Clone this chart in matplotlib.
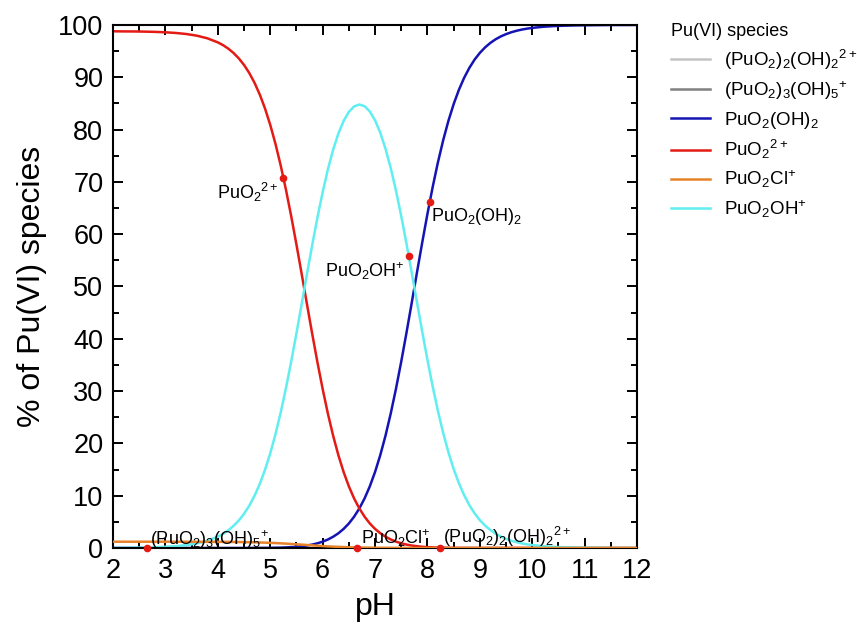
import numpy as np
import matplotlib
matplotlib.use("Agg")
import matplotlib.pyplot as plt
from matplotlib.ticker import MultipleLocator

plt.rcParams['font.family'] = ['Liberation Sans', 'DejaVu Sans']
plt.rcParams['mathtext.fontset'] = 'custom'
plt.rcParams['mathtext.rm'] = 'Liberation Sans'
plt.rcParams['mathtext.it'] = 'Liberation Sans:italic'
plt.rcParams['mathtext.bf'] = 'Liberation Sans:bold'

# pH grid (finer where the curves bend)
ph = [2.0, 2.2, 2.4, 2.6, 2.8, 3.0, 3.2, 3.4, 3.6, 3.8, 4.0,
      4.1, 4.2, 4.3, 4.4, 4.5, 4.6, 4.7, 4.8, 4.9,
      5.0, 5.1, 5.2, 5.3, 5.4, 5.5, 5.6, 5.7, 5.8, 5.9,
      6.0, 6.1, 6.2, 6.3, 6.4, 6.5, 6.6, 6.7, 6.8, 6.9,
      7.0, 7.1, 7.2, 7.3, 7.4, 7.5, 7.6, 7.7, 7.8, 7.9,
      8.0, 8.1, 8.2, 8.3, 8.4, 8.5, 8.6, 8.7, 8.8, 8.9,
      9.0, 9.1, 9.2, 9.3, 9.4, 9.5, 9.6, 9.7, 9.8, 9.9,
      10.0, 10.2, 10.4, 10.6, 10.8, 11.0, 11.2, 11.4, 11.6, 11.8, 12.0]

# % of Pu(VI) species
puo2 = [98.79, 98.77, 98.76, 98.73, 98.68, 98.60, 98.47, 98.27, 97.95, 97.45, 96.67,
        96.14, 95.47, 94.64, 93.61, 92.35, 90.81, 88.94, 86.70, 84.03,
        80.89, 77.25, 73.11, 68.48, 63.42, 58.01, 52.37, 46.64, 40.98, 35.52,
        30.39, 25.68, 21.46, 17.74, 14.52, 11.78, 9.47, 7.56, 5.98, 4.69,
        3.65, 2.82, 2.15, 1.63, 1.21, 0.90, 0.65, 0.47, 0.34, 0.23,
        0.16, 0.11, 0.07, 0.05, 0.03, 0.02, 0.01, 0.01, 0.01, 0,
        0, 0, 0, 0, 0, 0, 0, 0, 0, 0,
        0, 0, 0, 0, 0, 0, 0, 0, 0, 0, 0]
puo2oh = [0.02, 0.04, 0.06, 0.09, 0.14, 0.22, 0.35, 0.55, 0.87, 1.38, 2.16,
          2.71, 3.39, 4.23, 5.26, 6.54, 8.09, 9.98, 12.25, 14.94,
          18.11, 21.77, 25.94, 30.59, 35.66, 41.07, 46.67, 52.33, 57.88, 63.16,
          68.04, 72.39, 76.14, 79.24, 81.66, 83.39, 84.43, 84.79, 84.47, 83.46,
          81.76, 79.38, 76.31, 72.60, 68.27, 63.43, 58.16, 52.62, 46.97, 41.35,
          35.93, 30.84, 26.17, 21.98, 18.29, 15.09, 12.38, 10.09, 8.18, 6.61,
          5.32, 4.28, 3.43, 2.74, 2.19, 1.75, 1.39, 1.11, 0.88, 0.70,
          0.56, 0.35, 0.22, 0.14, 0.09, 0.06, 0.04, 0.02, 0.01, 0.01, 0.0]
puo2oh2 = [0, 0, 0, 0, 0, 0, 0, 0, 0, 0, 0,
           0, 0, 0, 0, 0, 0.01, 0.01, 0.02, 0.02,
           0.03, 0.05, 0.07, 0.11, 0.16, 0.23, 0.33, 0.47, 0.65, 0.89,
           1.21, 1.62, 2.15, 2.81, 3.65, 4.69, 5.98, 7.56, 9.48, 11.79,
           14.54, 17.77, 21.51, 25.76, 30.50, 35.67, 41.18, 46.90, 52.70, 58.41,
           63.90, 69.05, 73.76, 77.97, 81.68, 84.88, 87.61, 89.90, 91.81, 93.39,
           94.67, 95.72, 96.57, 97.26, 97.81, 98.25, 98.61, 98.89, 99.12, 99.30,
           99.44, 99.65, 99.78, 99.86, 99.91, 99.94, 99.96, 99.98, 99.99, 99.99, 100.0]
puo2cl = [1.20, 1.20, 1.20, 1.20, 1.20, 1.20, 1.20, 1.19, 1.19, 1.18, 1.17,
          1.17, 1.16, 1.15, 1.14, 1.12, 1.10, 1.08, 1.05, 1.02,
          0.98, 0.94, 0.89, 0.83, 0.77, 0.70, 0.64, 0.57, 0.50, 0.43,
          0.37, 0.31, 0.26, 0.22, 0.18, 0.14, 0.12, 0.09, 0.07, 0.06,
          0.04, 0.03, 0.03, 0.02, 0.01, 0.01, 0.01, 0, 0, 0,
          0, 0, 0, 0, 0, 0, 0, 0, 0, 0,
          0, 0, 0, 0, 0, 0, 0, 0, 0, 0,
          0, 0, 0, 0, 0, 0, 0, 0, 0, 0, 0]
dimer = [0.0] * len(ph)
trimer = [0.0] * len(ph)

# labelled points on the curves
lab_ph = [5.24, 8.05, 7.65, 2.65, 6.66, 8.24]
lab_val = [70.7, 66.2, 55.8, 0, 0, 0]
lab_txt = [r'PuO$_2$$^{2+}$', r'PuO$_2$(OH)$_2$', r'PuO$_2$OH$^{+}$',
           r'(PuO$_2$)$_3$(OH)$_5$$^{+}$', r'PuO$_2$Cl$^{+}$',
           r'(PuO$_2$)$_2$(OH)$_2$$^{2+}$']

fig = plt.figure(figsize=(8.57, 6.29), dpi=100)
ax = fig.add_axes([0.1319, 0.1288, 0.6115, 0.8315])

lw = 1.8
ax.plot(ph, dimer, color='#c4c4c4', lw=lw, label=r'(PuO$_2$)$_2$(OH)$_2$$^{2+}$')
ax.plot(ph, trimer, color='#808080', lw=lw, label=r'(PuO$_2$)$_3$(OH)$_5$$^{+}$')
ax.plot(ph, puo2oh2, color='#1414b4', lw=lw, label=r'PuO$_2$(OH)$_2$')
ax.plot(ph, puo2, color='#e41a14', lw=lw, label=r'PuO$_2$$^{2+}$')
ax.plot(ph, puo2cl, color='#e8822a', lw=lw, label=r'PuO$_2$Cl$^{+}$', zorder=4)
ax.plot(ph, puo2oh, color='#60eef0', lw=lw, label=r'PuO$_2$OH$^{+}$')

ax.plot(lab_ph, lab_val, 'o', color='#e41a14', ms=4.5, clip_on=False, zorder=5)

offs = [(-3, -2, 'right', 'top'), (1, -3, 'left', 'top'), (-3, -3, 'right', 'top'),
        (2, -2, 'left', 'bottom'), (3, -1, 'left', 'bottom'), (2, -1, 'left', 'bottom')]
for x, y, t, (dx, dy, ha, va) in zip(lab_ph, lab_val, lab_txt, offs):
    ax.annotate(t, (x, y), xytext=(dx, dy), textcoords='offset points',
                ha=ha, va=va, fontsize=13, zorder=6)

ax.set_xlim(2, 12)
ax.set_ylim(0, 100)
ax.xaxis.set_major_locator(MultipleLocator(1))
ax.xaxis.set_minor_locator(MultipleLocator(0.5))
ax.yaxis.set_major_locator(MultipleLocator(10))
ax.yaxis.set_minor_locator(MultipleLocator(5))
ax.tick_params(which='both', direction='in', top=True, right=True, width=1.4)
ax.tick_params(which='major', length=7, labelsize=19.5)
ax.tick_params(which='minor', length=4)
ax.tick_params(axis='y', pad=7)
ax.tick_params(axis='x', pad=7)
for s in ax.spines.values():
    s.set_linewidth(1.5)

ax.set_xlabel('pH', fontsize=23, labelpad=6)
ax.set_ylabel('% of Pu(VI) species', fontsize=23, labelpad=8)

leg = fig.legend(loc='upper left', bbox_to_anchor=(0.772, 0.978), frameon=False,
                 title='Pu(VI) species', fontsize=13.5, title_fontsize=13,
                 alignment='left', handlelength=2.1, handletextpad=0.75,
                 labelspacing=0.4, borderpad=0)

fig.savefig('out.png', dpi=100)
